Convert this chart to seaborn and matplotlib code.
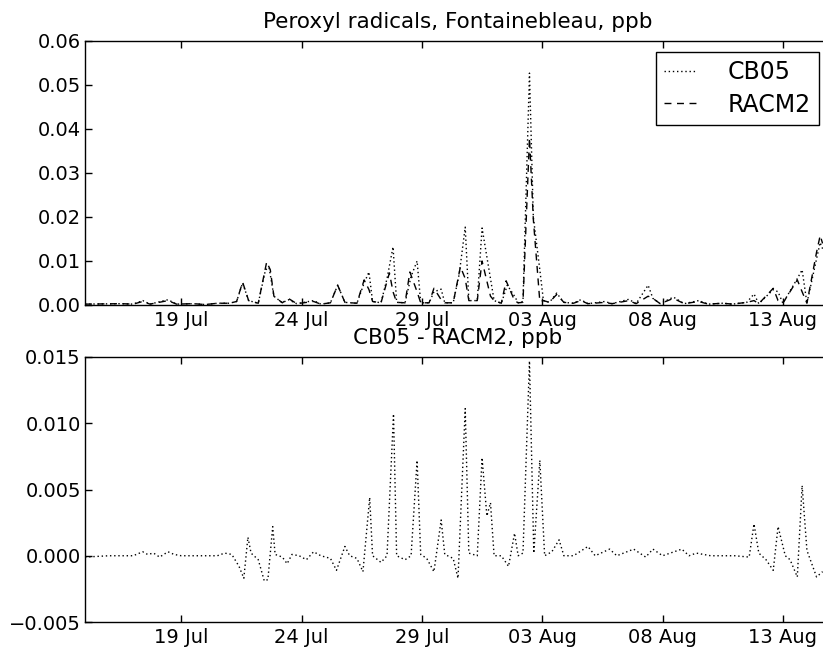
import numpy as np
import pandas as pd
import matplotlib
matplotlib.use("Agg")
import matplotlib.pyplot as plt
import matplotlib.dates as mdates
import matplotlib.ticker as mticker
import seaborn as sns

# ---------------- data (time in days since 2001-07-15 00:00) ----------------
start = pd.Timestamp("2001-07-15 00:00")

cb05_t = [0, 1.5, 2.0, 2.4, 2.7, 3.45, 3.8, 4.5, 5.0, 5.5, 6.0, 6.3, 6.55, 6.8,
          7.2, 7.5, 7.65, 7.85, 8.2, 8.45, 8.8, 9.5, 9.8, 10.2, 10.5, 10.8,
          11.3, 11.6, 11.8, 11.95, 12.3, 12.55, 12.8, 12.95, 13.3, 13.55, 13.8,
          13.95, 14.3, 14.5, 14.8, 14.95, 15.3, 15.55, 15.8, 15.95, 16.3, 16.5,
          16.85, 17.0, 17.3, 17.55, 17.85, 18.0, 18.2, 18.47, 18.63, 18.9,
          19.05, 19.3, 19.6, 19.9, 20.3, 20.6, 20.9, 21.6, 21.9, 22.6, 22.9,
          23.4, 23.6, 23.9, 24.45, 24.9, 25.5, 25.9, 26.5, 26.9, 27.5, 27.8,
          28.0, 28.6, 28.8, 29.0, 29.6, 29.8, 30.0, 30.4, 30.55, 30.65]
cb05_v = [0.0002, 0.0003, 0.0002, 0.0010, 0.0002, 0.0012, 0.0002, 0.0003, 0.0001,
          0.0004, 0.0004, 0.0008, 0.0050, 0.0010, 0.0004, 0.0080, 0.0085, 0.0020,
          0.0005, 0.0012, 0.0003, 0.0010, 0.0002, 0.0005, 0.0045, 0.0006, 0.0004,
          0.0050, 0.0075, 0.0008, 0.0005, 0.0060, 0.0132, 0.0006, 0.0005, 0.0065,
          0.0100, 0.0005, 0.0005, 0.0030, 0.0036, 0.0005, 0.0005, 0.0070, 0.0177,
          0.0010, 0.0010, 0.0175, 0.0060, 0.0010, 0.0004, 0.0045, 0.0020, 0.0005,
          0.0008, 0.0527, 0.0200, 0.0080, 0.0010, 0.0006, 0.0027, 0.0006, 0.0004,
          0.0012, 0.0003, 0.0008, 0.0003, 0.0013, 0.0003, 0.0045, 0.0015, 0.0003,
          0.0018, 0.0003, 0.0010, 0.0002, 0.0004, 0.0002, 0.0006, 0.0025, 0.0003,
          0.0035, 0.0030, 0.0004, 0.0060, 0.0080, 0.0004, 0.0105, 0.0142, 0.0128]

racm2_t = [0, 1.5, 2.0, 2.4, 2.7, 3.45, 3.8, 4.5, 5.0, 5.5, 6.0, 6.3, 6.55, 6.8,
           7.2, 7.55, 7.7, 7.85, 8.2, 8.45, 8.8, 9.5, 9.8, 10.2, 10.5, 10.8,
           11.3, 11.6, 11.8, 11.95, 12.3, 12.65, 12.8, 12.95, 13.3, 13.5, 13.8,
           13.95, 14.3, 14.5, 14.8, 14.95, 15.3, 15.6, 15.8, 15.95, 16.3, 16.5,
           16.85, 17.0, 17.3, 17.5, 17.85, 18.0, 18.2, 18.47, 18.63, 18.9,
           19.05, 19.3, 19.6, 19.9, 20.3, 20.6, 20.9, 21.6, 21.9, 22.6, 22.9,
           23.4, 23.6, 23.9, 24.45, 24.9, 25.5, 25.9, 26.5, 26.9, 27.5, 27.8,
           28.0, 28.6, 28.8, 29.0, 29.6, 29.8, 30.0, 30.4, 30.55, 30.65]
racm2_v = [0.0002, 0.0003, 0.0002, 0.0008, 0.0002, 0.0010, 0.0002, 0.0003, 0.0001,
           0.0004, 0.0004, 0.0008, 0.0052, 0.0010, 0.0004, 0.0098, 0.0080, 0.0020,
           0.0005, 0.0015, 0.0003, 0.0008, 0.0002, 0.0005, 0.0045, 0.0006, 0.0004,
           0.0057, 0.0035, 0.0008, 0.0005, 0.0073, 0.0030, 0.0006, 0.0005, 0.0075,
           0.0030, 0.0005, 0.0005, 0.0038, 0.0012, 0.0005, 0.0005, 0.0087, 0.0060,
           0.0010, 0.0010, 0.0100, 0.0020, 0.0010, 0.0004, 0.0055, 0.0010, 0.0005,
           0.0006, 0.0380, 0.0195, 0.0008, 0.0010, 0.0006, 0.0024, 0.0006, 0.0004,
           0.0010, 0.0003, 0.0006, 0.0003, 0.0010, 0.0003, 0.0020, 0.0015, 0.0003,
           0.0015, 0.0003, 0.0008, 0.0002, 0.0004, 0.0002, 0.0006, 0.0010, 0.0003,
           0.0038, 0.0010, 0.0004, 0.0057, 0.0030, 0.0004, 0.0120, 0.0158, 0.0140]

diff_t = [0, 1.0, 2.0, 2.4, 2.6, 2.85, 3.1, 3.45, 3.7, 4.0, 5.5, 5.8, 6.1, 6.4,
          6.6, 6.77, 6.9, 7.2, 7.45, 7.6, 7.8, 7.9, 8.2, 8.4, 8.6, 8.9, 9.2,
          9.5, 9.8, 10.2, 10.45, 10.8, 11.0, 11.3, 11.55, 11.83, 11.95, 12.3,
          12.55, 12.82, 12.95, 13.3, 13.55, 13.8, 13.95, 14.2, 14.5, 14.8, 14.95,
          15.3, 15.5, 15.8, 15.95, 16.3, 16.5, 16.7, 16.85, 17.0, 17.3, 17.6,
          17.85, 18.0, 18.2, 18.47, 18.65, 18.9, 19.1, 19.4, 19.7, 19.9, 20.3,
          20.9, 21.2, 21.8, 22.1, 22.8, 23.3, 23.6, 24.0, 24.8, 25.1, 25.4, 26.0,
          27.0, 27.6, 27.8, 28.0, 28.3, 28.6, 28.8, 29.1, 29.3, 29.6, 29.8, 30.0,
          30.4, 30.65]
diff_v = [-0.0001, 0.0, 0.0, 0.0003, 0.0001, 0.0002, -0.0001, 0.0003, 0.0001, 0.0,
          0.0, 0.0002, 0.0001, -0.0008, -0.0017, 0.0014, 0.0002, -0.0003, -0.0019,
          -0.0018, 0.0022, 0.0001, -0.0001, -0.0006, 0.0001, 0.0, -0.0003, 0.0003,
          0.0, -0.0002, -0.0011, 0.0007, 0.0, -0.0002, -0.0012, 0.0044, 0.0,
          -0.0005, 0.0, 0.0107, 0.0, -0.0003, 0.0, 0.0072, 0.0001, -0.0002,
          -0.0012, 0.0027, 0.0001, -0.0002, -0.0017, 0.0111, 0.0002, 0.0, 0.0074,
          0.0030, 0.0040, 0.0, 0.0, -0.0008, 0.0017, 0.0, 0.0002, 0.0147, 0.0002,
          0.0072, 0.0, 0.0003, 0.0012, 0.0, 0.0, 0.0007, 0.0, 0.0005, 0.0, 0.0005,
          -0.0001, 0.0005, 0.0, 0.0005, 0.0, 0.0002, 0.0, 0.0, -0.0001, 0.0024,
          0.0002, -0.0003, -0.0011, 0.0022, 0.0, -0.0003, -0.0016, 0.0053, 0.0004,
          -0.0016, -0.0012]

top_title = "Peroxyl radicals, Fontainebleau, ppb"
bottom_title = "CB05 - RACM2, ppb"
series_names = ["CB05", "RACM2"]
top_yticks = [0.00, 0.01, 0.02, 0.03, 0.04, 0.05, 0.06]
bottom_yticks = [-0.005, 0.000, 0.005, 0.010, 0.015]

# ---------------- style ----------------
sns.set_style("ticks", {"xtick.direction": "in", "ytick.direction": "in",
                        "axes.edgecolor": "black"})
plt.rcParams["font.family"] = ["DejaVu Sans"]
plt.rcParams["text.color"] = "black"
plt.rcParams["axes.labelcolor"] = "black"
plt.rcParams["xtick.color"] = "black"
plt.rcParams["ytick.color"] = "black"
plt.rcParams["xtick.labelcolor"] = "black"
plt.rcParams["ytick.labelcolor"] = "black"
plt.rcParams["axes.linewidth"] = 1.0


def to_time(days):
    return start + pd.to_timedelta(np.asarray(days), unit="D")


df_top = pd.concat([
    pd.DataFrame({"time": to_time(cb05_t), "value": cb05_v, "model": series_names[0]}),
    pd.DataFrame({"time": to_time(racm2_t), "value": racm2_v, "model": series_names[1]}),
])
df_diff = pd.DataFrame({"time": to_time(diff_t), "value": diff_v})

fig = plt.figure(figsize=(8.23, 6.47), dpi=100)
ax1 = fig.add_axes([85 / 823, 1 - 305 / 647, 746 / 823, 264 / 647])
ax2 = fig.add_axes([85 / 823, 1 - 622 / 647, 746 / 823, 265 / 647])

sns.lineplot(data=df_top, x="time", y="value", hue="model", style="model",
             palette=["black", "black"], dashes={"CB05": (1, 2), "RACM2": (5, 4)},
             estimator=None, sort=True, linewidth=1.0, ax=ax1)
sns.lineplot(data=df_diff, x="time", y="value", color="black", estimator=None,
             sort=True, linewidth=1.0, ax=ax2)
ax2.lines[0].set_dashes((1, 2))

xmin = start
xmax = start + pd.Timedelta(days=31)
date_ticks = pd.date_range("2001-07-19", "2001-08-13", freq="5D")
for ax in (ax1, ax2):
    ax.set_xlim(xmin, xmax)
    ax.set_xticks(date_ticks)
    ax.xaxis.set_major_formatter(mdates.DateFormatter("%d %b"))
    ax.set_xlabel("")
    ax.set_ylabel("")
    ax.tick_params(axis="both", which="major", labelsize=14, direction="in",
                   top=True, right=True, length=5, width=1, color="black",
                   labelcolor="black")
    ax.tick_params(axis="x", pad=4.5)
    ax.tick_params(axis="y", pad=3)
    for s in ax.spines.values():
        s.set_visible(True)
        s.set_linewidth(1.0)
        s.set_color("black")

ax1.set_ylim(0, 0.06)
ax1.set_yticks(top_yticks)
ax1.yaxis.set_major_formatter(mticker.FormatStrFormatter("%.2f"))
ax2.set_ylim(-0.005, 0.015)
ax2.set_yticks(bottom_yticks)
ax2.yaxis.set_major_formatter(mticker.FuncFormatter(
    lambda v, p: ("%.3f" % v).replace("-", "\u2212")))

ax1.set_title(top_title, fontsize=15.5, pad=9, color="black")
ax2.set_title(bottom_title, fontsize=15.5, pad=9, color="black")

leg = ax1.legend(loc="upper right", bbox_to_anchor=((819 - 85) / 746, (305 - 52) / 264),
                 fontsize=17, frameon=True, fancybox=False, handlelength=1.4,
                 borderpad=0.35, labelspacing=0.35, handletextpad=1.3,
                 borderaxespad=0.0)
leg.get_frame().set_edgecolor("black")
leg.get_frame().set_linewidth(1.0)
leg.get_frame().set_alpha(1.0)
leg.set_title(None)
for h in leg.get_lines():
    h.set_linewidth(1.0)
for t in leg.get_texts():
    t.set_color("black")

fig.savefig("out.png", dpi=100)
